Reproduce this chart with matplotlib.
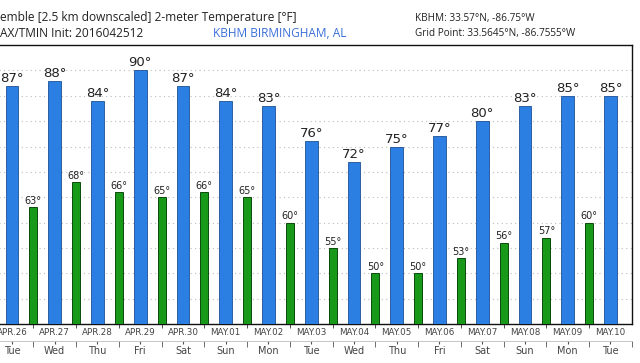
import numpy as np
import matplotlib.pyplot as plt
from matplotlib.ticker import FixedLocator

# daily max / min temperatures (deg F)
dates = ["APR.26", "APR.27", "APR.28", "APR.29", "APR.30", "MAY.01", "MAY.02", "MAY.03",
         "MAY.04", "MAY.05", "MAY.06", "MAY.07", "MAY.08", "MAY.09", "MAY.10"]
days = ["Tue", "Wed", "Thu", "Fri", "Sat", "Sun", "Mon", "Tue",
        "Wed", "Thu", "Fri", "Sat", "Sun", "Mon", "Tue"]
tmax = [87, 88, 84, 90, 87, 84, 83, 76, 72, 75, 77, 80, 83, 85, 85]
tmin = [63, 68, 66, 65, 66, 65, 60, 55, 50, 50, 53, 56, 57, 60]

blue = "#2b7fe3"
green = "#18991a"

fig = plt.figure(figsize=(6.4, 3.63), dpi=100)
ax = fig.add_axes([-0.0147, 0.107, 1.002, 0.769])

x_max = np.arange(len(tmax))
x_min = np.arange(len(tmin)) + 0.5

ax.bar(x_max, [v - 40 for v in tmax], bottom=40, width=0.3, color=blue,
       edgecolor="#1d4f95", linewidth=0.6, zorder=3)
ax.bar(x_min, [v - 40 for v in tmin], bottom=40, width=0.19, color=green,
       edgecolor="#0b4a0b", linewidth=0.7, zorder=3)

for x, v in zip(x_max, tmax):
    ax.text(x, v + 0.2, f"{v}°", ha="center", va="bottom", fontsize=9.5,
            color="#222222", zorder=4)
for x, v in zip(x_min, tmin):
    ax.text(x, v + 0.3, f"{v}°", ha="center", va="bottom", fontsize=7,
            color="#222222", zorder=4)

ax.set_xlim(-0.5, 14.5)
ax.set_ylim(40, 95)
ax.set_yticks(np.arange(45, 95, 5))
ax.tick_params(axis="y", left=False, labelleft=False)
ax.grid(axis="y", linestyle=(0, (1, 3)), color="#bbbbbb", linewidth=0.8, zorder=0)

ax.set_xticks(x_max)
ax.set_xticklabels(dates, fontsize=6.3, color="#444444")
ax.tick_params(axis="x", length=0, pad=3)
ax.xaxis.set_minor_locator(FixedLocator(x_min))
ax.tick_params(axis="x", which="minor", length=3, color="#333333", direction="out")

for s in ax.spines.values():
    s.set_color("#111111")
    s.set_linewidth(1.0)

# second row with day names
sec = ax.secondary_xaxis(-0.062)
sec.set_xticks(x_max)
sec.set_xticklabels(days, fontsize=7, color="#444444")
sec.tick_params(axis="x", length=2, color="#555555", pad=1)
sec.xaxis.set_minor_locator(FixedLocator(np.arange(-0.5, 15, 1)))
sec.tick_params(axis="x", which="minor", length=4, color="#555555")
sec.spines["bottom"].set_color("#bbbbbb")
sec.spines["bottom"].set_linewidth(0.6)

# header
fig.text(0.0, 0.953, "emble [2.5 km downscaled] 2-meter Temperature [°F]",
         fontsize=8.6, family="Open Sans", color="#222222", va="center")
fig.text(0.0, 0.909, "AX/TMIN Init: 2016042512",
         fontsize=8.6, family="Open Sans", color="#222222", va="center")
fig.text(0.333, 0.909, "KBHM BIRMINGHAM, AL",
         fontsize=8.6, family="Open Sans", color="#3a6fd8", va="center")
fig.text(0.649, 0.948, "KBHM: 33.57°N, -86.75°W",
         fontsize=7.2, family="Open Sans", color="#222222", va="center")
fig.text(0.649, 0.909, "Grid Point: 33.5645°N, -86.7555°W",
         fontsize=7.2, family="Open Sans", color="#222222", va="center")

fig.savefig("out.png", dpi=100)
